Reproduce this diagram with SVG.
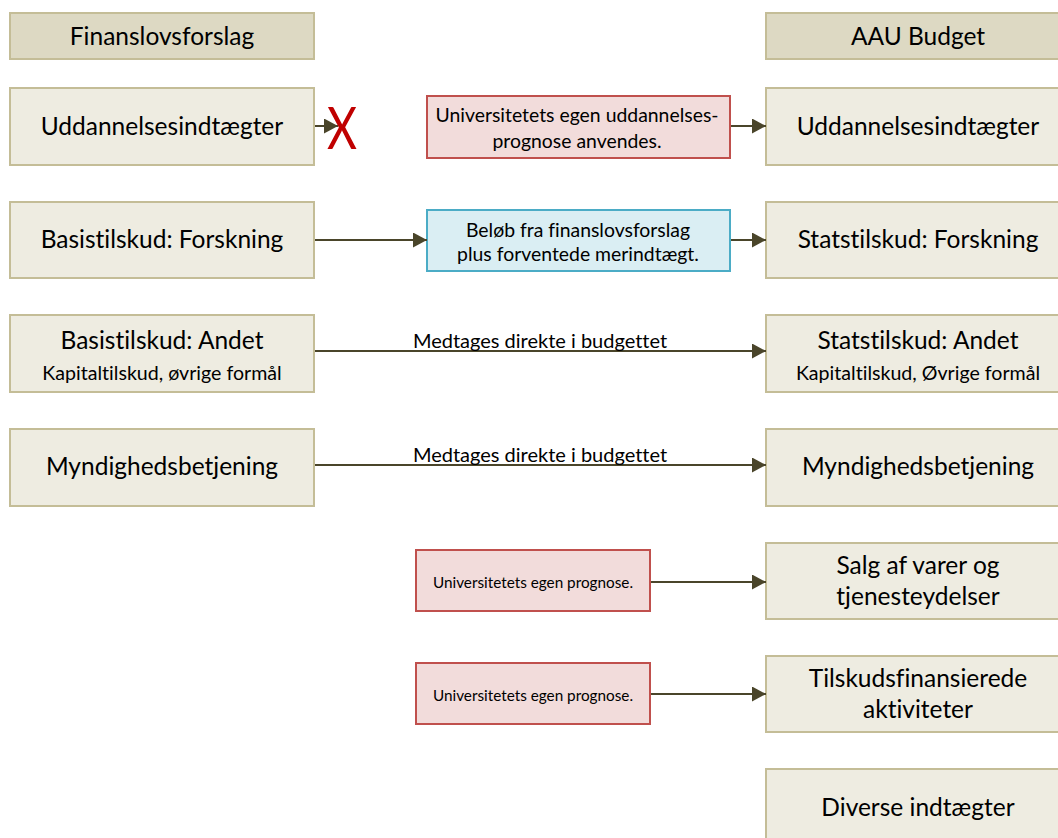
<svg xmlns="http://www.w3.org/2000/svg" width="1058" height="838" viewBox="0 0 1058 838">
<style>
.hdr{fill:#DDD9C3;stroke:#C4BD97;stroke-width:2}
.node{fill:#EEECE1;stroke:#C4BD97;stroke-width:2}
.red{fill:#F2DCDB;stroke:#C0504D;stroke-width:2}
.blue{fill:#DAEEF3;stroke:#4BACC6;stroke-width:2}
text{font-family:Lato,"Liberation Sans",sans-serif;fill:#000;text-anchor:middle;font-variant-ligatures:none;font-feature-settings:"liga" 0}
.big{font-size:24.5px}
.mid{font-size:19.4px}
.sm{font-size:19.6px}
.pr{font-size:15.3px}
.lbl{font-size:20px}
.conn{stroke:#4A452A;stroke-width:2;fill:none}
</style>
<defs>
<marker id="ah" viewBox="0 0 10 10" refX="10" refY="5" markerWidth="7" markerHeight="7.5" markerUnits="strokeWidth" orient="auto" preserveAspectRatio="none">
<path d="M0,0 L10,5 L0,10 Z" fill="#4A452A"/>
</marker>
</defs>
<g id="hdr-left"><rect class="hdr" x="10" y="13" width="304" height="46"/><text class="big" x="162" y="45">Finanslovsforslag</text></g>
<g id="hdr-right"><rect class="hdr" x="766" y="13" width="304" height="46"/><text class="big" x="918" y="45">AAU Budget</text></g>
<g id="l-udd"><rect class="node" x="10" y="88" width="304" height="77"/><text class="big" x="162" y="135">Uddannelsesindtægter</text></g>
<g id="l-forsk"><rect class="node" x="10" y="202" width="304" height="76"/><text class="big" x="162" y="248">Basistilskud: Forskning</text></g>
<g id="l-andet"><rect class="node" x="10" y="315" width="304" height="77"/><text class="big" x="162" y="349">Basistilskud: Andet</text><text class="sm" x="162" y="380">Kapitaltilskud, øvrige formål</text></g>
<g id="l-myn"><rect class="node" x="10" y="429" width="304" height="77"/><text class="big" x="162" y="475">Myndighedsbetjening</text></g>
<g id="m-udd"><rect class="red" x="427" y="96" width="303" height="62"/><text class="mid" x="577" y="122">Universitetets egen uddannelses-</text><text class="mid" x="577" y="148">prognose anvendes.</text></g>
<g id="m-forsk"><rect class="blue" x="427" y="210" width="303" height="61"/><text class="mid" x="578" y="237">Beløb fra finanslovsforslag</text><text class="mid" x="578" y="261">plus forventede merindtægt.</text></g>
<g id="m-salg"><rect class="red" x="416" y="550" width="234" height="61"/><text class="pr" x="533" y="588">Universitetets egen prognose.</text></g>
<g id="m-tilsk"><rect class="red" x="416" y="663" width="234" height="61"/><text class="pr" x="533" y="701">Universitetets egen prognose.</text></g>
<g id="r-udd"><rect class="node" x="766" y="88" width="304" height="77"/><text class="big" x="918" y="135">Uddannelsesindtægter</text></g>
<g id="r-forsk"><rect class="node" x="766" y="202" width="304" height="76"/><text class="big" x="918" y="248">Statstilskud: Forskning</text></g>
<g id="r-andet"><rect class="node" x="766" y="315" width="304" height="77"/><text class="big" x="918" y="349">Statstilskud: Andet</text><text class="sm" x="918" y="380">Kapitaltilskud, Øvrige formål</text></g>
<g id="r-myn"><rect class="node" x="766" y="429" width="304" height="77"/><text class="big" x="918" y="475">Myndighedsbetjening</text></g>
<g id="r-salg"><rect class="node" x="766" y="543" width="304" height="76"/><text class="big" x="918" y="574">Salg af varer og</text><text class="big" x="918" y="605">tjenesteydelser</text></g>
<g id="r-tilsk"><rect class="node" x="766" y="656" width="304" height="76"/><text class="big" x="918" y="687">Tilskudsfinansierede</text><text class="big" x="918" y="718">aktiviteter</text></g>
<g id="r-div"><rect class="node" x="766" y="769" width="304" height="76"/><text class="big" x="918" y="816">Diverse indtægter</text></g>
<g id="connectors">
<line class="conn" x1="315" y1="126" x2="338" y2="126" marker-end="url(#ah)"/>
<line class="conn" x1="731" y1="126" x2="766" y2="126" marker-end="url(#ah)"/>
<line class="conn" x1="315" y1="240" x2="427" y2="240" marker-end="url(#ah)"/>
<line class="conn" x1="731" y1="240" x2="766" y2="240" marker-end="url(#ah)"/>
<line class="conn" x1="315" y1="351" x2="766" y2="351" marker-end="url(#ah)"/>
<text class="lbl" x="540" y="348">Medtages direkte i budgettet</text>
<line class="conn" x1="315" y1="465" x2="766" y2="465" marker-end="url(#ah)"/>
<text class="lbl" x="540" y="462">Medtages direkte i budgettet</text>
<line class="conn" x1="651" y1="582" x2="766" y2="582" marker-end="url(#ah)"/>
<line class="conn" x1="651" y1="694" x2="766" y2="694" marker-end="url(#ah)"/>
</g>
<g id="x-mark"><text x="327" y="149" textLength="30" lengthAdjust="spacingAndGlyphs" style="font-size:58px;fill:#C00000;text-anchor:start">X</text></g>
</svg>
